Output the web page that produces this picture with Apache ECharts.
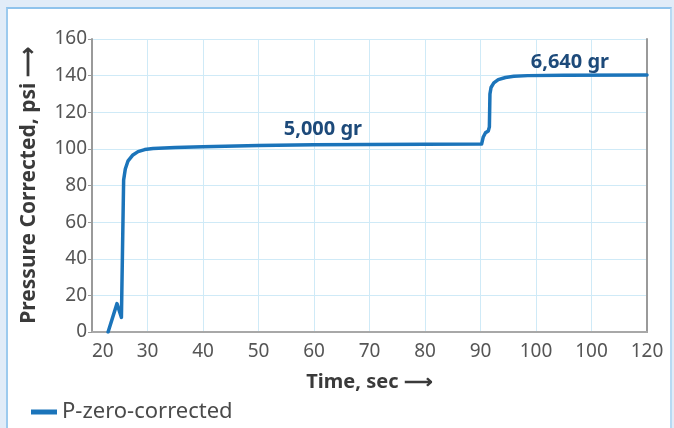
<!DOCTYPE html>
<html>
<head>
<meta charset="utf-8">
<script src="https://cdn.jsdelivr.net/npm/echarts@6/dist/echarts.min.js"></script>
<style>
  html, body { margin: 0; padding: 0; width: 674px; height: 428px; overflow: hidden; background: #e1ecf8; }
  #frame { position: absolute; left: 6px; top: 7px; width: 662px; height: 430px; background: #fff;
           border-left: 2px solid #9ccaee; border-top: 2px solid #8fc3ec; border-right: 2px solid #b9daf3; }
  #chart { position: absolute; left: 0; top: 0; width: 674px; height: 428px; }
</style>
</head>
<body>
<div id="frame"></div>
<div id="chart"></div>
<script>
// ---- data ----
const seriesName = 'P-zero-corrected';
const xTickValues = [20, 30, 40, 50, 60, 70, 80, 90, 100, 110, 120];
const xTickLabels = ['20', '30', '40', '50', '60', '70', '80', '90', '100', '100', '120'];
const yTickLabels = ['0', '20', '40', '60', '80', '100', '120', '140', '160'];
const timeSec = [22.9, 24.5, 25.3, 25.7, 26.0, 26.5, 27.3, 28.3, 29.5, 31, 35, 40, 50, 60, 70, 80, 90.2, 90.5, 90.9, 91.4, 91.6, 91.7, 91.9, 92.4, 93.2, 94.5, 96, 98.5, 105, 120];
const pressurePsi = [0, 15.5, 8, 83, 89, 93.5, 96.5, 98.5, 99.6, 100.2, 100.8, 101.2, 101.8, 102.2, 102.4, 102.5, 102.6, 106.5, 108.8, 109.8, 112, 130, 133.5, 136, 137.8, 139, 139.6, 140, 140.2, 140.3];
const annotationTexts = ['5,000 gr', '6,640 gr'];
const annotationTime = [61.6, 106.1];
const annotationPsi = [110.6, 147.2];

const lineData = timeSec.map((t, i) => [t, pressurePsi[i]]);
const markData = annotationTexts.map((s, i) => ({ coord: [annotationTime[i], annotationPsi[i]], value: s }));

const FONT = '"Noto Sans", "Open Sans", sans-serif';
const chart = echarts.init(document.getElementById('chart'), null, { renderer: 'canvas' });
chart.setOption({
  backgroundColor: 'transparent',
  animation: false,
  grid: { left: 92, right: 27, top: 39, bottom: 96, containLabel: false },
  legend: {
    left: 26, top: 396, icon: 'rect', itemWidth: 26, itemHeight: 5, itemGap: 8,
    textStyle: { fontFamily: FONT, fontSize: 22, color: '#4a4a4a' },
    data: [seriesName]
  },
  xAxis: [{
    type: 'value', min: 20, max: 120, interval: 10,
    name: 'Time, sec \u27F6', nameLocation: 'middle', nameGap: 40,
    nameTextStyle: { fontFamily: FONT, fontSize: 20, fontWeight: 'bold', color: '#3a3a3a' },
    axisLine: { show: true, lineStyle: { color: '#9a9a9a', width: 2 } },
    axisTick: { show: false },
    axisLabel: {
      fontFamily: FONT, fontSize: 19, color: '#555', margin: 10, alignMinLabel: 'left',
      formatter: v => { const i = xTickValues.indexOf(Math.round(v)); return i >= 0 ? xTickLabels[i] : ''; }
    },
    splitLine: { show: true, lineStyle: { color: '#cfeaf7', width: 1 } }
  }, {
    type: 'value', min: 20, max: 120, interval: 10, position: 'top',
    axisLine: { show: true, lineStyle: { color: '#a8a8a8', width: 2 } },
    axisTick: { show: false }, axisLabel: { show: false }, splitLine: { show: false }
  }],
  yAxis: [{
    type: 'value', min: 0, max: 160, interval: 20,
    name: 'Pressure Corrected, psi \u27F6', nameLocation: 'middle', nameGap: 52,
    nameTextStyle: { fontFamily: FONT, fontSize: 21, fontWeight: 'bold', color: '#3a3a3a' },
    axisLine: { show: true, lineStyle: { color: '#9a9a9a', width: 2 } },
    axisTick: { show: true, length: 4, lineStyle: { color: '#9a9a9a' } },
    axisLabel: {
      fontFamily: FONT, fontSize: 19, color: '#555', margin: 5,
      formatter: v => yTickLabels[Math.round(v / 20)] || ''
    },
    splitLine: { show: true, lineStyle: { color: '#cfeaf7', width: 1 } }
  }, {
    type: 'value', min: 0, max: 160, interval: 20, position: 'right',
    axisLine: { show: true, lineStyle: { color: '#9a9a9a', width: 2 } },
    axisTick: { show: false }, axisLabel: { show: false }, splitLine: { show: false }
  }],
  series: [{
    name: seriesName, type: 'line', data: lineData, showSymbol: false, symbol: 'none',
    lineStyle: { color: '#1b74ba', width: 3.5, join: 'round', cap: 'round' },
    itemStyle: { color: '#1b74ba' },
    markPoint: {
      symbol: 'circle', symbolSize: 0,
      label: {
        show: true, position: 'inside', formatter: p => p.value,
        fontFamily: FONT, fontSize: 20, fontWeight: 'bold', color: '#1d4a7a'
      },
      data: markData
    }
  }]
});
</script>
</body>
</html>
